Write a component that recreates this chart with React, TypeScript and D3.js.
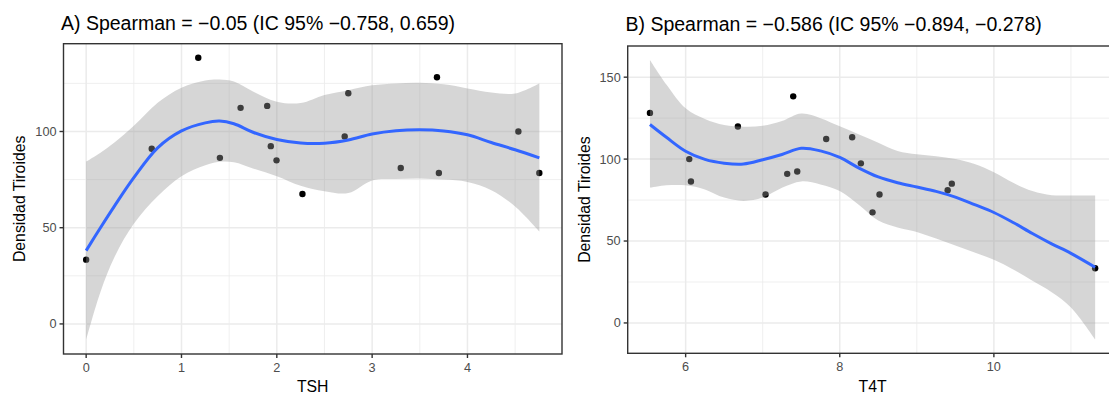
import { useEffect, useRef } from 'react';
import * as d3 from 'd3';

// Observed points (same patients in both panels)
const densidad = [33.4, 91.0, 138.3, 86.3, 112.3, 113.3, 92.4, 85.0, 67.5, 97.4, 119.9, 81.0, 128.2, 78.4, 100.0, 78.4];
const tsh = [0, 0.688, 1.176, 1.403, 1.62, 1.899, 1.937, 1.997, 2.269, 2.712, 2.75, 3.3, 3.68, 3.7, 4.534, 4.754];
const t4t = [11.314, 7.318, 7.396, 6.069, 7.824, 8.161, 7.448, 9.454, 8.425, 8.274, 6.678, 9.4, 5.537, 7.037, 6.047, 8.516];

// LOESS fit + 95% band
const smoothXA = [0, 0.15, 0.3, 0.5, 0.75, 1.0, 1.25, 1.4, 1.55, 1.75, 2.0, 2.25, 2.5, 2.75, 3.0, 3.25, 3.5, 3.75, 4.0, 4.25, 4.5, 4.754];
const fitA = [38.1, 50.0, 61.5, 76.0, 91.5, 100.3, 104.5, 105.4, 104.0, 99.6, 95.8, 94.0, 93.9, 95.6, 98.7, 100.4, 100.9, 100.3, 98.3, 94.3, 90.5, 86.3];
const upperA = [84.4, 89.0, 94.4, 103.0, 115.0, 122.8, 126.5, 127.0, 126.0, 120.8, 115.5, 114.8, 119.0, 121.5, 124.0, 125.0, 125.3, 124.5, 122.4, 120.3, 119.8, 125.0];
const lowerA = [-8.3, 16.6, 35.0, 52.0, 66.3, 76.8, 82.5, 84.3, 84.0, 80.8, 76.8, 71.8, 69.0, 68.0, 74.6, 75.3, 75.6, 75.0, 73.8, 69.5, 61.0, 48.0];

// LOESS fit + 95% band
const smoothXB = [5.537, 5.75, 6.0, 6.25, 6.5, 6.75, 7.0, 7.25, 7.5, 7.75, 8.0, 8.25, 8.5, 8.75, 9.0, 9.25, 9.5, 9.75, 10.0, 10.25, 10.5, 10.75, 11.0, 11.314];
const fitB = [121.1, 113.3, 104.8, 99.8, 97.5, 97.0, 99.6, 102.8, 106.6, 105.0, 101.0, 94.5, 89.1, 85.6, 83.0, 80.3, 76.8, 72.2, 67.4, 61.3, 54.6, 48.3, 42.5, 34.0];
const upperB = [160.5, 145.5, 131.0, 124.5, 120.8, 119.8, 120.3, 123.2, 127.8, 125.0, 120.0, 115.0, 110.0, 105.0, 103.0, 101.8, 100.0, 97.0, 92.0, 85.5, 80.5, 78.0, 77.8, 77.8];
const lowerB = [82.5, 84.0, 84.0, 81.5, 76.5, 74.5, 76.5, 82.5, 86.4, 84.5, 80.5, 72.0, 62.5, 58.3, 55.5, 51.5, 47.3, 43.0, 38.5, 32.6, 25.7, 18.8, 9.5, -10.0];

const xTicksA = [0, 1, 2, 3, 4];
const xTicksB = [6, 8, 10];
const yTicksA = [0, 50, 100];
const yTicksB = [0, 50, 100, 150];

const titleA = 'A) Spearman = \u22120.05 (IC 95% \u22120.758, 0.659)';
const titleB = 'B) Spearman = \u22120.586 (IC 95% \u22120.894, \u22120.278)';

const FONT = '"Liberation Sans", Arial, Helvetica, sans-serif';

interface PanelConfig {
  box: { left: number; top: number; right: number; bottom: number };
  xs: number[];
  sx: number[];
  fit: number[];
  upper: number[];
  lower: number[];
  xTicks: number[];
  yTicks: number[];
  title: string;
  xLabel: string;
  titleX: number;
  titleY: number;
  yLabelX: number;
}

function minorsOf(ticks: number[]) {
  const step = ticks[1] - ticks[0];
  const out: number[] = [];
  for (let i = -1; i < ticks.length; i++) out.push(ticks[0] + step * i + step / 2);
  return out;
}

export default function App() {
  const svgRef = useRef<SVGSVGElement>(null);

  useEffect(() => {
    if (!svgRef.current) return;
    const svg = d3.select(svgRef.current);
    svg.selectAll('*').remove();

    const drawPanel = (cfg: PanelConfig) => {
      const { box } = cfg;
      const xExt = d3.extent(cfg.xs) as [number, number];
      const yAll = [...densidad, ...cfg.upper, ...cfg.lower];
      const yExt = d3.extent(yAll) as [number, number];
      const xPad = (xExt[1] - xExt[0]) * 0.05;
      const yPad = (yExt[1] - yExt[0]) * 0.05;

      const x = d3.scaleLinear().domain([xExt[0] - xPad, xExt[1] + xPad]).range([box.left, box.right]);
      const y = d3.scaleLinear().domain([yExt[0] - yPad, yExt[1] + yPad]).range([box.bottom, box.top]);

      const g = svg.append('g');
      const [x0, x1] = x.domain();
      const [y0, y1] = y.domain();

      // grid
      minorsOf(cfg.xTicks).filter((v) => v > x0 && v < x1).forEach((v) => {
        g.append('line').attr('x1', x(v)).attr('x2', x(v)).attr('y1', box.top).attr('y2', box.bottom)
          .attr('stroke', '#ebebeb').attr('stroke-width', 0.8);
      });
      minorsOf(cfg.yTicks).filter((v) => v > y0 && v < y1).forEach((v) => {
        g.append('line').attr('x1', box.left).attr('x2', box.right).attr('y1', y(v)).attr('y2', y(v))
          .attr('stroke', '#ebebeb').attr('stroke-width', 0.8);
      });
      cfg.xTicks.forEach((v) => {
        g.append('line').attr('x1', x(v)).attr('x2', x(v)).attr('y1', box.top).attr('y2', box.bottom)
          .attr('stroke', '#ebebeb').attr('stroke-width', 1.5);
      });
      cfg.yTicks.forEach((v) => {
        g.append('line').attr('x1', box.left).attr('x2', box.right).attr('y1', y(v)).attr('y2', y(v))
          .attr('stroke', '#ebebeb').attr('stroke-width', 1.5);
      });

      // points (drawn under the ribbon, like ggplot layer order)
      cfg.xs.forEach((xv, i) => {
        g.append('circle').attr('cx', x(xv)).attr('cy', y(densidad[i])).attr('r', 3.2).attr('fill', '#000');
      });

      const idx = d3.range(cfg.sx.length);
      const area = d3.area<number>()
        .x((i) => x(cfg.sx[i]))
        .y0((i) => y(cfg.lower[i]))
        .y1((i) => y(cfg.upper[i]))
        .curve(d3.curveCatmullRom.alpha(0.5));
      g.append('path').attr('d', area(idx)).attr('fill', '#999999').attr('fill-opacity', 0.4);

      const line = d3.line<number>()
        .x((i) => x(cfg.sx[i]))
        .y((i) => y(cfg.fit[i]))
        .curve(d3.curveCatmullRom.alpha(0.5));
      g.append('path').attr('d', line(idx)).attr('fill', 'none').attr('stroke', '#3366FF').attr('stroke-width', 3);

      // border
      g.append('rect').attr('x', box.left).attr('y', box.top)
        .attr('width', box.right - box.left).attr('height', box.bottom - box.top)
        .attr('fill', 'none').attr('stroke', '#333333').attr('stroke-width', 1.4);

      // axes ticks + labels
      cfg.xTicks.forEach((v) => {
        g.append('line').attr('x1', x(v)).attr('x2', x(v)).attr('y1', box.bottom).attr('y2', box.bottom + 4)
          .attr('stroke', '#333333').attr('stroke-width', 1.4);
        g.append('text').attr('x', x(v)).attr('y', box.bottom + 17.5).attr('text-anchor', 'middle')
          .style('font-size', '12.7px').style('fill', '#4d4d4d').text(String(v));
      });
      cfg.yTicks.forEach((v) => {
        g.append('line').attr('x1', box.left - 4).attr('x2', box.left).attr('y1', y(v)).attr('y2', y(v))
          .attr('stroke', '#333333').attr('stroke-width', 1.4);
        g.append('text').attr('x', box.left - 7).attr('y', y(v)).attr('dy', '0.35em').attr('text-anchor', 'end')
          .style('font-size', '12.7px').style('fill', '#4d4d4d').text(String(v));
      });

      g.append('text').attr('x', (box.left + box.right) / 2).attr('y', 391.5).attr('text-anchor', 'middle')
        .style('font-size', '15.8px').style('fill', '#000').text(cfg.xLabel);

      g.append('text')
        .attr('transform', `translate(${cfg.yLabelX},${(box.top + box.bottom) / 2}) rotate(-90)`)
        .attr('text-anchor', 'middle')
        .style('font-size', '15.8px').style('fill', '#000').text('Densidad Tiroides');

      g.append('text').attr('x', cfg.titleX).attr('y', cfg.titleY)
        .style('font-size', '19.5px').style('fill', '#000').text(cfg.title);
    };

    drawPanel({
      box: { left: 63.5, top: 43.7, right: 562, bottom: 354 },
      xs: tsh, sx: smoothXA, fit: fitA, upper: upperA, lower: lowerA,
      xTicks: xTicksA, yTicks: yTicksA, title: titleA, xLabel: 'TSH',
      titleX: 61, titleY: 30, yLabelX: 24.5,
    });
    drawPanel({
      box: { left: 627.7, top: 46, right: 1117.4, bottom: 353.3 },
      xs: t4t, sx: smoothXB, fit: fitB, upper: upperB, lower: lowerB,
      xTicks: xTicksB, yTicks: yTicksB, title: titleB, xLabel: 'T4T',
      titleX: 625.5, titleY: 31, yLabelX: 589.5,
    });
  }, []);

  return (
    <svg
      ref={svgRef}
      width={1109}
      height={394}
      style={{ position: 'absolute', left: 0, top: 0, background: '#fff', fontFamily: FONT }}
    />
  );
}
